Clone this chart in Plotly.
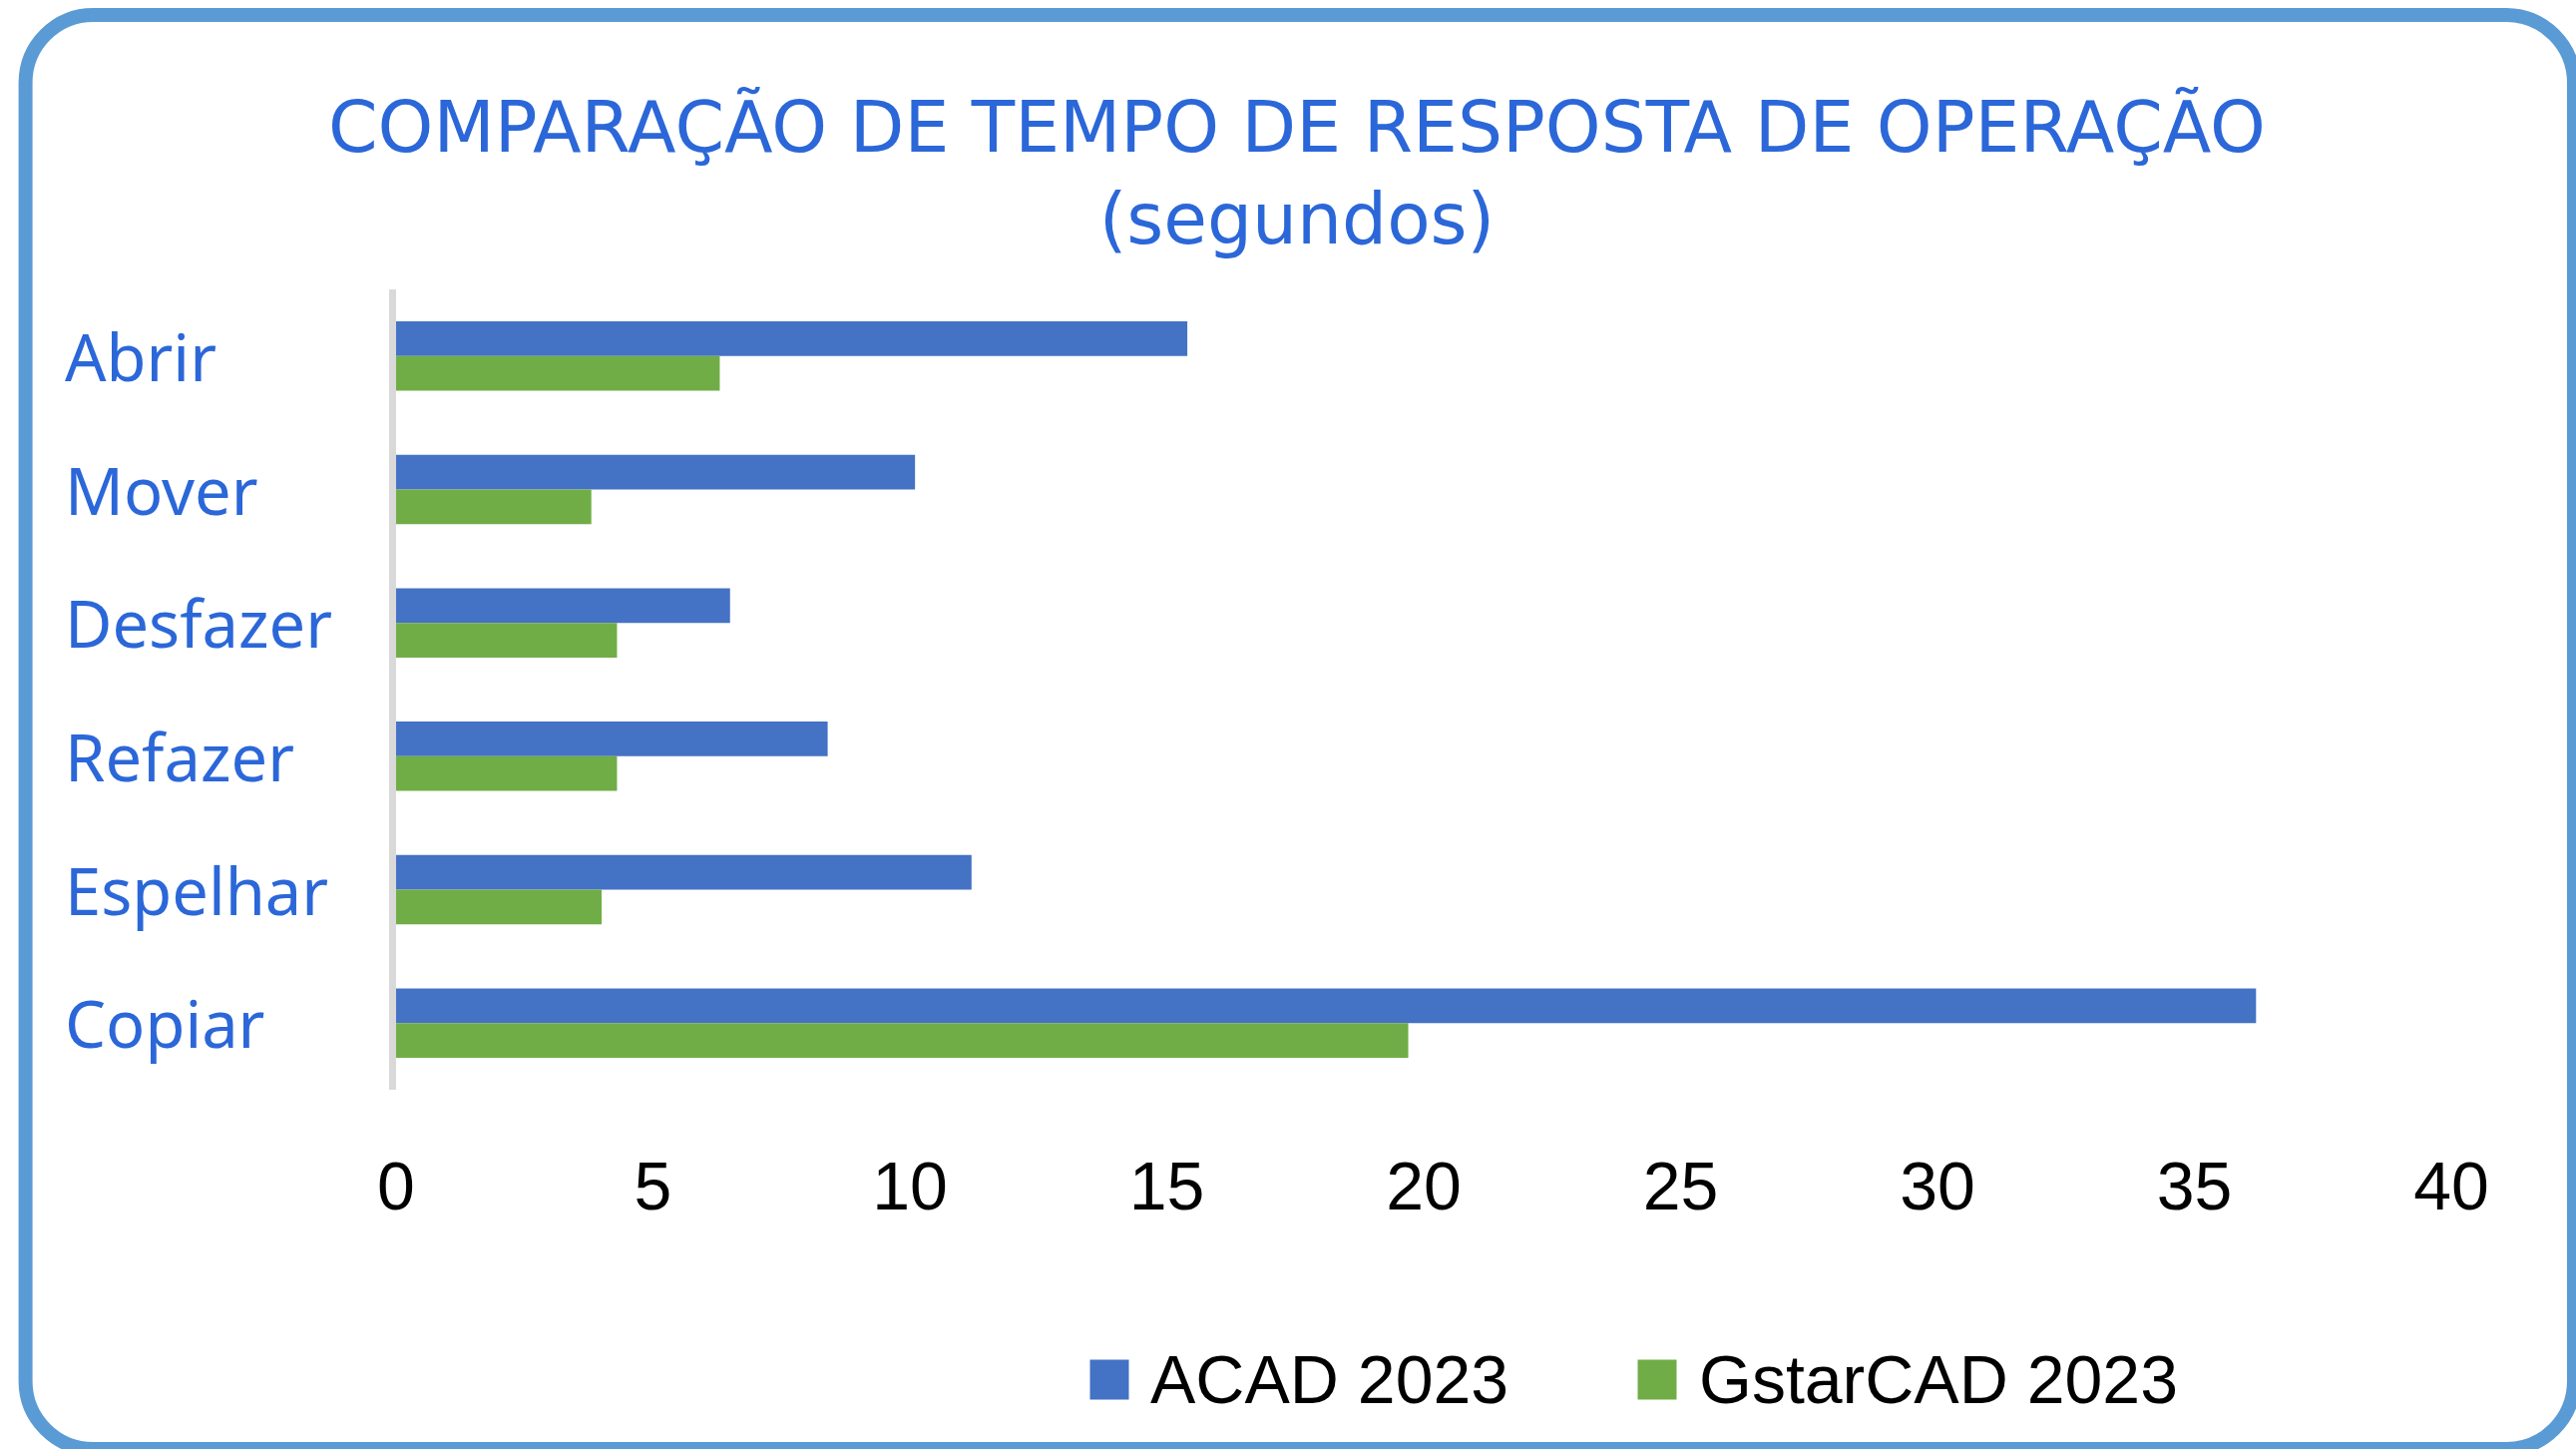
import plotly.graph_objects as go

categories = ["Abrir", "Mover", "Desfazer", "Refazer", "Espelhar", "Copiar"]
acad_2023 = [15.4, 10.1, 6.5, 8.4, 11.2, 36.2]
gstarcad_2023 = [6.3, 3.8, 4.3, 4.3, 4.0, 19.7]
series_names = ["ACAD 2023", "GstarCAD 2023"]
x_ticks = [0, 5, 10, 15, 20, 25, 30, 35, 40]

BLUE = "#4472C4"
GREEN = "#70AD47"
TEXT_BLUE = "#2B67D8"
BORDER = "#5B9BD5"

W, H = 2582, 1452
ML, MR, MT, MB = 396.5, 125, 290, 360
PW, PH = W - ML - MR, H - MT - MB


def px(x):
    return (x - ML) / PW


def py(y):
    return 1 - (y - MT) / PH


fig = go.Figure()
fig.add_trace(go.Bar(y=categories, x=acad_2023, name=series_names[0], orientation="h",
                     marker=dict(color=BLUE, line=dict(width=0)), showlegend=False))
fig.add_trace(go.Bar(y=categories, x=gstarcad_2023, name=series_names[1], orientation="h",
                     marker=dict(color=GREEN, line=dict(width=0)), showlegend=False))

annotations = []
for c in categories:
    annotations.append(dict(x=px(62), xref="paper", y=c, yref="y", text=c, showarrow=False,
                            xanchor="left", yanchor="middle",
                            font=dict(family="Noto Sans", size=65, color=TEXT_BLUE)))

# legend built from annotations (colour boxes + names)
legend_items = [(series_names[0], BLUE, 1112, 1151), (series_names[1], GREEN, 1661, 1701)]
for name, col, bx, tx in legend_items:
    annotations.append(dict(x=px(bx), xref="paper", y=py(1382), yref="paper", text=" ",
                            showarrow=False, xanchor="center", yanchor="middle",
                            width=38, height=39, bgcolor=col, borderpad=0,
                            font=dict(size=10)))
    annotations.append(dict(x=px(tx), xref="paper", y=py(1382), yref="paper", text=name,
                            showarrow=False, xanchor="left", yanchor="middle",
                            font=dict(family="Liberation Sans", size=68, color="#000000")))

# rounded border
x0, y0, x1, y1, r = 25, 15, 2580, 1452, 68
k = 0.5523 * r
def P(x, y):
    return f"{px(x):.6f},{py(y):.6f}"
path = (f"M {P(x0 + r, y0)} L {P(x1 - r, y0)} C {P(x1 - r + k, y0)} {P(x1, y0 + r - k)} {P(x1, y0 + r)} "
        f"L {P(x1, y1 - r)} C {P(x1, y1 - r + k)} {P(x1 - r + k, y1)} {P(x1 - r, y1)} "
        f"L {P(x0 + r, y1)} C {P(x0 + r - k, y1)} {P(x0, y1 - r + k)} {P(x0, y1 - r)} "
        f"L {P(x0, y0 + r)} C {P(x0, y0 + r - k)} {P(x0 + r - k, y0)} {P(x0 + r, y0)} Z")

fig.update_layout(
    width=W, height=H,
    margin=dict(l=ML, r=MR, t=MT, b=MB, pad=0),
    paper_bgcolor="white", plot_bgcolor="white",
    barmode="group", bargap=0.48, bargroupgap=0,
    title=dict(text="COMPARAÇÃO DE TEMPO DE RESPOSTA DE OPERAÇÃO<br>(segundos)",
               x=1300 / W, xref="container", xanchor="center",
               y=1 - 152 / H, yref="container", yanchor="middle",
               font=dict(family="DejaVu Sans", size=71, color=TEXT_BLUE)),
    xaxis=dict(range=[0, 40], tickvals=x_ticks, ticktext=[str(t) for t in x_ticks],
               showgrid=False, zeroline=False, showline=False, ticks="",
               ticklabelstandoff=51,
               tickfont=dict(family="Liberation Sans", size=68, color="#000000")),
    yaxis=dict(autorange="reversed", showticklabels=False, showgrid=False, zeroline=False,
               showline=True, linecolor="#D9D9D9", linewidth=7, ticks=""),
    annotations=annotations,
    shapes=[dict(type="path", path=path, xref="paper", yref="paper",
                 line=dict(color=BORDER, width=14), fillcolor="rgba(0,0,0,0)", layer="above")],
)

fig.write_html("out.html", config={"displayModeBar": False},
               post_script="document.body.style.margin='0';")
